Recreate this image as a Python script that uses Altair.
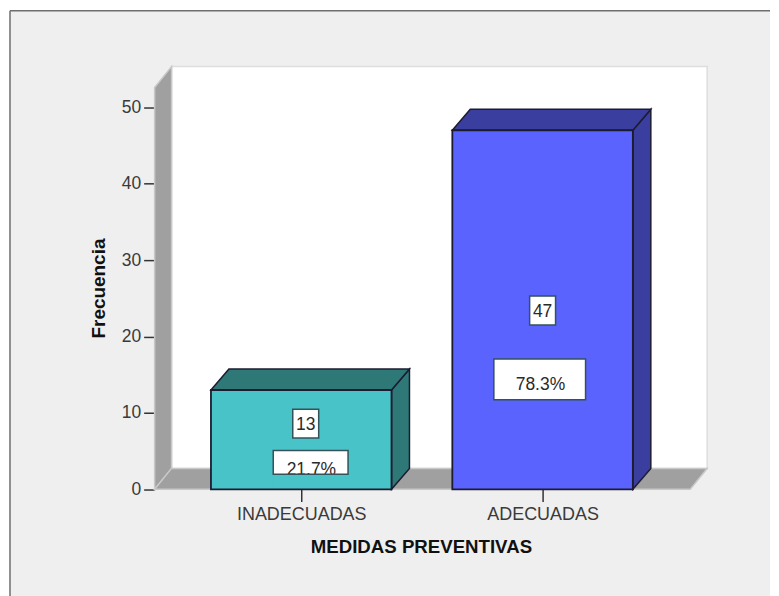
import altair as alt
import pandas as pd

categories = ["INADECUADAS", "ADECUADAS"]
counts = [13, 47]
percents = ["21.7%", "78.3%"]
positions = [1.0, 2.0]
front_colors = ["#48c3c7", "#5b63ff"]
shade_colors = ["#2e7878", "#3a3f9f"]
count_label_y = [8.6, 23.4]
count_label_x = [1.0186, 2.0]
pct_label_y = [3.52, 14.39]
pct_label_x = [1.039, 1.988]
pct_text_y = [2.7, 13.8]
pct_half_w = [0.155, 0.19]
pct_half_h = [1.56, 2.67]
y_ticks = [0, 10, 20, 30, 40, 50]

FONT = "Liberation Sans"
HALF = 0.374
DX = 0.0744
DY = 2.74
EDGE = "#1c1c30"
X_SCALE = alt.Scale(domain=[1, 2], range=[292, 534])
Y_SCALE = alt.Scale(domain=[0, 50], range=[479.8, 96.8])
W_L, W_R = 0.3926, 2.6116
W_DX, WALL_TOP = 0.0702, 52.6

X_AXIS = alt.Axis(values=positions, orient="bottom", offset=-120, grid=False, domain=False,
                  tickSize=12, tickWidth=1.5, tickColor="#333333", labelPadding=4,
                  labelExpr="datum.value == 1 ? '%s' : '%s'" % tuple(categories),
                  labelFont=FONT, labelFontSize=18, labelColor="#3a3a3a",
                  titleFont=FONT, titleFontSize=18.7, titleFontWeight="bold", titleColor="#111111",
                  titleX=412, titleY=48, labelOverlap=False, labelFlush=False)
Y_AXIS = alt.Axis(values=y_ticks, orient="left", offset=-145, grid=False, domain=False,
                  tickSize=11, tickWidth=1.5, tickColor="#333333", labelPadding=3,
                  format="d", labelFont=FONT, labelFontSize=17.5, labelColor="#3a3a3a",
                  titleFont=FONT, titleFontSize=19, titleFontWeight="bold", titleColor="#111111",
                  titleX=-46, titleY=278, titleAngle=270)
x_enc = alt.X("x:Q", scale=X_SCALE, axis=X_AXIS, title="MEDIDAS PREVENTIVAS")
y_enc = alt.Y("y:Q", scale=Y_SCALE, axis=Y_AXIS, title="Frecuencia")


def area(xs, ys, y2s, fill, stroke, sw=1.5):
    d = pd.DataFrame({"x": xs, "y": ys, "y2": y2s})
    return alt.Chart(d).mark_area(fill=fill, stroke=stroke, strokeWidth=sw, interpolate="linear").encode(
        x=x_enc, y=y_enc, y2="y2:Q")


def rect(x0, x1, y0, y1, fill=None, stroke=None, sw=1.5):
    d = pd.DataFrame([{"x": x0, "x2": x1, "y": y0, "y2": y1}])
    kw = {"fill": fill if fill else "transparent"}
    if stroke:
        kw["stroke"] = stroke
        kw["strokeWidth"] = sw
    return alt.Chart(d).mark_rect(**kw).encode(x=x_enc, x2="x2:Q", y=y_enc, y2="y2:Q")


def label(x, y, text, color="#2a2a2a"):
    d = pd.DataFrame([{"x": x, "y": y, "t": text}])
    return alt.Chart(d).mark_text(font=FONT, fontSize=17.5, color=color, align="center", baseline="middle", dy=1.5).encode(
        x=x_enc, y=y_enc, text="t:N")


frame_left = alt.Chart(pd.DataFrame({"k": [0]})).mark_rule(color="#6e6e6e", strokeWidth=1.5).encode(
    x=alt.value(0), y=alt.value(0), y2=alt.value(600))
frame_top = alt.Chart(pd.DataFrame({"k": [0]})).mark_rule(color="#6e6e6e", strokeWidth=1.5).encode(
    x=alt.value(0), x2=alt.value(762), y=alt.value(0))

layers = [
    rect(W_L + W_DX, W_R + W_DX, DY, WALL_TOP + DY, fill="#ffffff", stroke="#dddddd", sw=1.5),
    area([W_L, W_L + W_DX], [0, DY], [WALL_TOP, WALL_TOP + DY], "#a0a0a0", "#c8c8c8"),
    area([W_L, W_L + W_DX, W_R, W_R + W_DX], [0, 0, 0, DY], [0, DY, DY, DY], "#a0a0a0", "#c8c8c8"),
    frame_left,
    frame_top,
]

for i in range(2):
    c, v = positions[i], counts[i]
    l, r = c - HALF, c + HALF
    layers += [
        area([r, r + DX], [0, DY], [v, v + DY], shade_colors[i], EDGE),
        area([l, l + DX, r, r + DX], [v, v + DY, v + DY, v + DY], [v, v, v, v + DY], shade_colors[i], EDGE),
        rect(l, r, 0, v, fill=front_colors[i], stroke=EDGE, sw=1.8),
    ]
    cx, cy = count_label_x[i], count_label_y[i]
    layers += [
        rect(cx - 0.0537, cx + 0.0537, cy - 1.89, cy + 1.89, fill="#ffffff", stroke="#33525a"),
        label(cx, cy, str(v)),
    ]
    px, py, hw, hh = pct_label_x[i], pct_label_y[i], pct_half_w[i], pct_half_h[i]
    layers += [
        rect(px - hw, px + hw, py - hh, py + hh, fill="#ffffff"),
        label(px + 0.003, pct_text_y[i], percents[i]),
        # face colour below the box trims the text at the box edge, as in the original
        rect(px - hw, px + hw, 0.2, py - hh, fill=front_colors[i]),
        rect(px - hw, px + hw, py - hh, py + hh, stroke="#33525a"),
    ]

chart = alt.layer(*layers).properties(
    width=762, height=600, padding={"left": 1, "top": 1, "right": 0, "bottom": 0},
    background="#ffffff",
).configure_view(fill="#efefef", stroke=None)

chart.save("out.html", embed_options={"renderer": "svg", "actions": False})
